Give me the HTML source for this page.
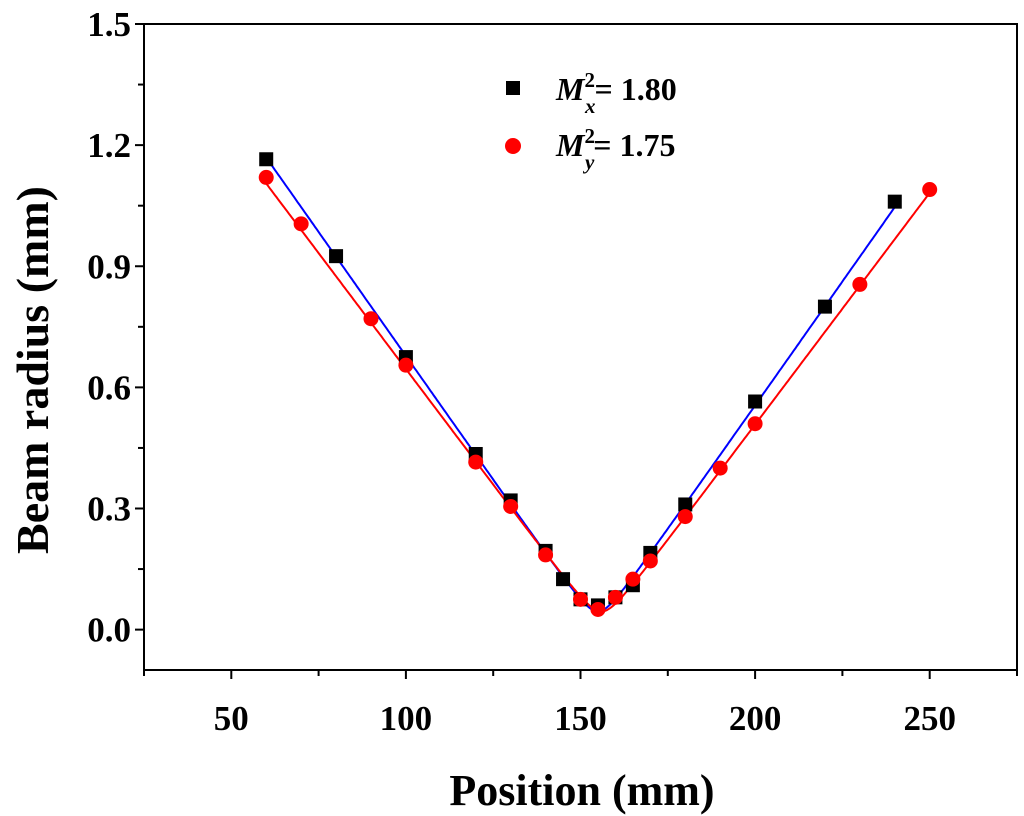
<!DOCTYPE html>
<html><head><meta charset="utf-8"><style>
body{margin:0;background:#fff;}
svg{display:block;font-family:"Liberation Serif",serif;font-weight:bold;}
</style></head><body>
<svg id="chart" width="1024" height="816">
<g id="axes"></g>
<g id="lines"></g>
<g id="marks"></g>
<text x="582" y="805" font-size="44" text-anchor="middle">Position (mm)</text>
<text transform="translate(48,370) rotate(-90)" font-size="46" text-anchor="middle">Beam radius (mm)</text>
<g>
<rect x="506" y="81" width="14" height="14" fill="#000"/>
<text x="556" y="100" font-size="32"><tspan font-style="italic">M</tspan><tspan dy="-13" font-size="21">2</tspan><tspan dx="-10" dy="26" font-size="21" font-style="italic">x</tspan><tspan dx="-1" dy="-13">= 1.80</tspan></text>
<circle cx="513" cy="146" r="8" fill="#f00"/>
<text x="556" y="156" font-size="32"><tspan font-style="italic">M</tspan><tspan dy="-13" font-size="21">2</tspan><tspan dx="-10" dy="26" font-size="21" font-style="italic">y</tspan><tspan dx="-1" dy="-13">= 1.75</tspan></text>
</g>
</svg>
<script>
const xTicks=[50,100,150,200,250];
const yTicks=[0.0,0.3,0.6,0.9,1.2,1.5];
const yTickLabels=["0.0","0.3","0.6","0.9","1.2","1.5"];
const xsPos=[60,80,100,120,130,140,145,150,155,160,165,170,180,200,220,240];
const xsVal=[1.165,0.925,0.675,0.435,0.32,0.195,0.125,0.075,0.06,0.08,0.11,0.19,0.31,0.565,0.80,1.06];
const ysPos=[60,70,90,100,120,130,140,150,155,160,165,170,180,190,200,230,250];
const ysVal=[1.12,1.005,0.77,0.655,0.415,0.305,0.185,0.075,0.05,0.08,0.125,0.17,0.28,0.40,0.51,0.855,1.09];
const fitX=[0.045,155,0.0123,60,240]; // w0, z0, divergence, zmin, zmax
const fitY=[0.045,156,0.0115,60,250];
const X0=144,X1=1017,Y0=670,Y1=24;
const xs=v=>X0+(v-25)/(275-25)*(X1-X0);
const ys=v=>Y0-(v+0.1)/(1.6)*(Y0-Y1);
const NS="http://www.w3.org/2000/svg";
function mk(p,t,a){const e=document.createElementNS(NS,t);for(const k in a)e.setAttribute(k,a[k]);p.appendChild(e);return e;}
const ax=document.getElementById('axes');
const fr=mk(ax,'rect',{x:X0,y:Y1,width:X1-X0,height:Y0-Y1,fill:'none',stroke:'#000','stroke-width':2});


for(let v=25;v<=275;v+=25){const x=xs(v);const major=v%50===0;
 const t=mk(ax,'line',{x1:x,x2:x,y1:Y0,y2:Y0+(major?9:6),stroke:'#000','stroke-width':2});
 
 }
xTicks.forEach(v=>{const t=mk(ax,'text',{x:xs(v),y:730,'font-size':35,'text-anchor':'middle'});t.textContent=v;
 
 });
for(let i=0;i<=10;i++){const v=i*0.15;const y=ys(v);const major=i%2===0;
 const t=mk(ax,'line',{x1:X0,x2:X0-(major?9:6),y1:y,y2:y,stroke:'#000','stroke-width':2});
 
 }
yTicks.forEach((v,i)=>{const t=mk(ax,'text',{x:131,y:ys(v)+12,'font-size':35,'text-anchor':'end'});t.textContent=yTickLabels[i];
 
 });
const ln=document.getElementById('lines');
function fit(p,col,name){let d='';for(let z=p[3];z<=p[4]+1e-9;z+=0.5){const w=Math.sqrt(p[0]*p[0]+Math.pow(p[2]*(z-p[1]),2));d+=(d?'L':'M')+xs(z).toFixed(1)+' '+ys(w).toFixed(1);}
 const e=mk(ln,'path',{d:d,fill:'none',stroke:col,'stroke-width':2});
 
 }
fit(fitX,'#0000ff','fit-line-x');fit(fitY,'#ff0000','fit-line-y');
const mg=document.getElementById('marks');
xsPos.forEach((z,i)=>{const e=mk(mg,'rect',{x:xs(z)-7,y:ys(xsVal[i])-7,width:14,height:14,fill:'#000'});
 
 });
ysPos.forEach((z,i)=>{const e=mk(mg,'circle',{cx:xs(z),cy:ys(ysVal[i]),r:7.5,fill:'#ff0000'});
 
 });
</script>
</body></html>
